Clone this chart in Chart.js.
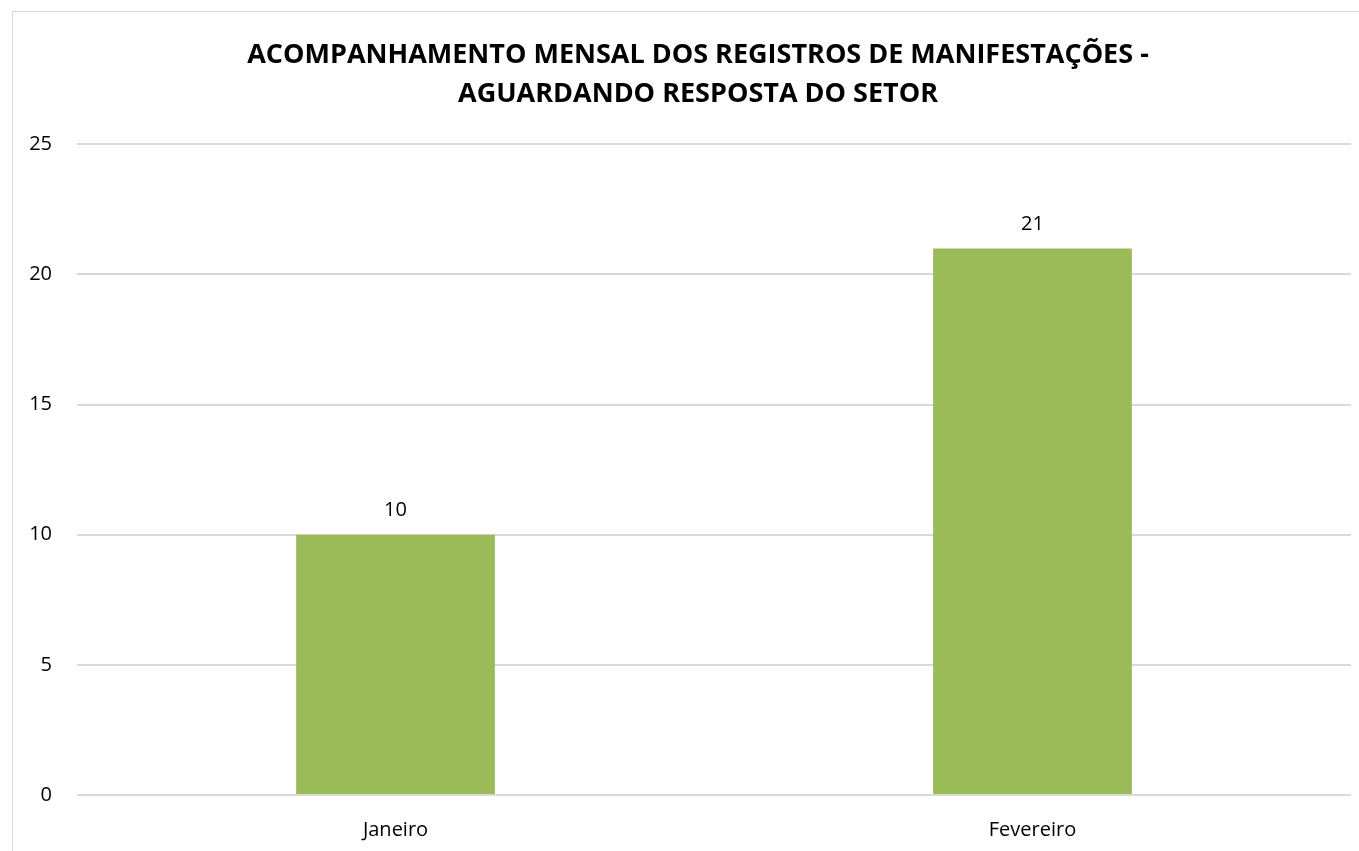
<!DOCTYPE html>
<html>
<head>
<meta charset="utf-8">
<script src="https://cdn.jsdelivr.net/npm/chart.js@4"></script>
<style>
    html, body { margin: 0; padding: 0; background: #fff; overflow: hidden; }
    .chart-box {
        position: absolute;
        left: 12px;
        top: 11px;
        width: 1370px;
        height: 900px;
        border: 1px solid #d9d9d9;
        background: #fff;
    }
</style>
</head>
<body>
<div class="chart-box">
    <canvas id="manifestChart"></canvas>
</div>
<script>
// Chart data
const months = ['Janeiro', 'Fevereiro'];
const waitingCounts = [10, 21];
const yTicks = [0, 5, 10, 15, 20, 25];
const chartTitle = ['ACOMPANHAMENTO MENSAL DOS REGISTROS DE MANIFESTAÇÕES -', 'AGUARDANDO RESPOSTA DO SETOR'];

const fontFamily = '"Open Sans", "Liberation Sans", sans-serif';

// Value labels above the bars
const valueLabels = {
    id: 'valueLabels',
    afterDatasetsDraw(chart) {
        const ctx = chart.ctx;
        const meta = chart.getDatasetMeta(0);
        ctx.save();
        ctx.fillStyle = '#000';
        ctx.font = '20px ' + fontFamily;
        ctx.textAlign = 'center';
        ctx.textBaseline = 'middle';
        meta.data.forEach((bar, i) => {
            ctx.fillText(waitingCounts[i], bar.x, bar.y - 24);
        });
        ctx.restore();
    }
};

const canvas = document.getElementById('manifestChart');
canvas.width = 1370;
canvas.height = 900;

new Chart(canvas, {
    type: 'bar',
    data: {
        labels: months,
        datasets: [{
            data: waitingCounts,
            backgroundColor: '#9bbb59',
            borderWidth: 0,
            barPercentage: 0.312,
            categoryPercentage: 1
        }]
    },
    options: {
        responsive: false,
        animation: false,
        layout: {
            padding: { left: 0, right: 0, top: 0, bottom: 47 }
        },
        plugins: {
            legend: { display: false },
            tooltip: { enabled: false },
            title: {
                display: true,
                text: chartTitle,
                color: '#000',
                font: { family: fontFamily, size: 27, weight: 'bold', lineHeight: 1.45 },
                padding: { top: 24, bottom: 30 }
            }
        },
        scales: {
            x: {
                grid: { display: false, drawTicks: false },
                border: { display: false },
                ticks: {
                    color: '#000',
                    font: { family: fontFamily, size: 20 },
                    padding: 23
                }
            },
            y: {
                min: 0,
                max: 25,
                afterBuildTicks(axis) {
                    axis.ticks = yTicks.map(v => ({ value: v }));
                },
                afterFit(axis) {
                    axis.width = 64;
                },
                grid: { color: '#d9d9d9', lineWidth: 2, drawTicks: false },
                border: { display: false },
                ticks: {
                    color: '#000',
                    font: { family: fontFamily, size: 20 },
                    padding: 25
                }
            },
            // empty right margin so the title stays centred on the whole chart
            yRight: {
                position: 'right',
                grid: { display: false, drawTicks: false },
                border: { display: false },
                ticks: { display: false },
                afterFit(axis) {
                    axis.width = 32;
                }
            }
        }
    },
    plugins: [valueLabels]
});
</script>
</body>
</html>
